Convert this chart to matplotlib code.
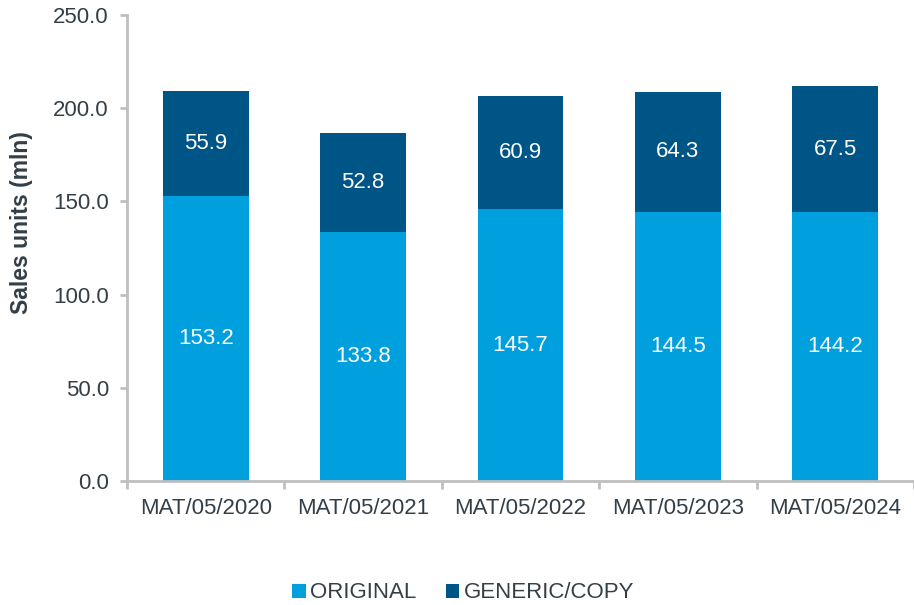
import matplotlib
matplotlib.use('Agg')
import matplotlib.pyplot as plt
import numpy as np

categories = ['MAT/05/2020', 'MAT/05/2021', 'MAT/05/2022', 'MAT/05/2023', 'MAT/05/2024']
original = [153.2, 133.8, 145.7, 144.5, 144.2]
generic = [55.9, 52.8, 60.9, 64.3, 67.5]

c_orig = '#00A0DF'
c_gen = '#005587'
c_text = '#333F48'
c_axis = '#BFBFBF'

plt.rcParams['font.family'] = 'Liberation Sans'

fig = plt.figure(figsize=(9.14, 6.05), dpi=100)
ax = fig.add_axes([0.139, 0.205, 0.861, 0.770])

x = np.arange(len(categories))
w = 0.545
b1 = ax.bar(x, original, w, color=c_orig, label='ORIGINAL')
b2 = ax.bar(x, generic, w, bottom=original, color=c_gen, label='GENERIC/COPY')

for i in range(len(categories)):
    ax.text(x[i], original[i] / 2, '{:.1f}'.format(original[i]), ha='center', va='center',
            color='white', fontsize=16)
    ax.text(x[i], original[i] + generic[i] / 2, '{:.1f}'.format(generic[i]), ha='center',
            va='center', color='white', fontsize=16)

ax.set_xlim(-0.5, len(categories) - 0.5)
ax.set_ylim(0, 250)
ax.set_yticks(np.arange(0, 251, 50))
ax.set_yticklabels(['{:.1f}'.format(v) for v in np.arange(0, 251, 50)])
ax.set_xticks(x)
ax.set_xticklabels(categories)
ax.set_xticks(np.arange(-0.5, len(categories), 1), minor=True)
ax.tick_params(axis='x', which='major', length=0, pad=12, labelsize=16, labelcolor=c_text)
ax.tick_params(axis='x', which='minor', length=6, width=2, color=c_axis)
ax.tick_params(axis='y', length=5, width=2, color=c_axis, labelsize=16, labelcolor=c_text, pad=8)

for s in ['top', 'right']:
    ax.spines[s].set_visible(False)
for s in ['left', 'bottom']:
    ax.spines[s].set_color(c_axis)
    ax.spines[s].set_linewidth(2)

ax.set_ylabel('Sales units (mln)', fontsize=16.5, fontweight='bold', color=c_text)
ax.yaxis.set_label_coords(-0.119, 0.554)

fig.legend(handles=[b1, b2], loc='center', bbox_to_anchor=(0.507, 0.02), ncol=2, frameon=False,
           fontsize=16, labelcolor=c_text, handlelength=0.6, handleheight=0.6,
           handletextpad=0.2, columnspacing=1.33)

fig.savefig('out.png', dpi=100)
